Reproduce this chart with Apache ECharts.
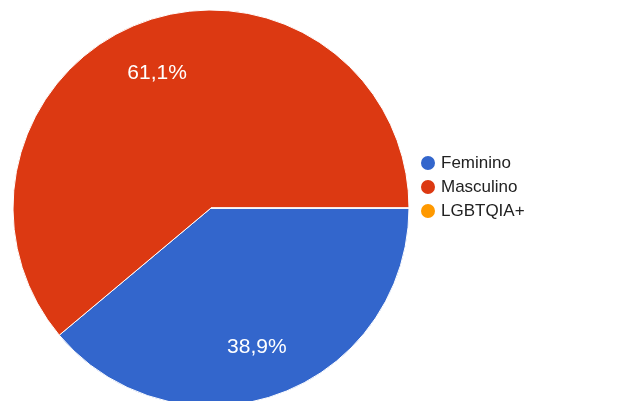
<!DOCTYPE html>
<html>
<head>
<meta charset="utf-8">
<script src="https://cdn.jsdelivr.net/npm/echarts@6/dist/echarts.min.js"></script>
<style>
  html, body { margin: 0; padding: 0; background: #ffffff; }
  #chart { width: 619px; height: 401px; }
</style>
</head>
<body>
<div id="chart"></div>
<script>
// Respostas por gênero (percentual)
const categories = ['Feminino', 'Masculino', 'LGBTQIA+'];
const values = [38.9, 61.1, 0];
const colors = ['#3366cc', '#dc3912', '#ff9900'];

const pieData = categories.map((name, i) => ({
  name: name,
  value: values[i],
  itemStyle: { color: colors[i] }
}));

function pctLabel(p) {
  if (!p.value) return '';
  return p.value.toFixed(1).replace('.', ',') + '%';
}

const center = [211, 208];
const outer = 198;
const font = 'Liberation Sans, Arial, sans-serif';

const chart = echarts.init(document.getElementById('chart'), null, { renderer: 'canvas' });
chart.setOption({
  animation: false,
  legend: {
    orient: 'vertical',
    left: 414,
    top: 149,
    icon: 'circle',
    itemWidth: 16,
    itemHeight: 16,
    itemGap: 6,
    data: categories,
    textStyle: { fontFamily: font, fontSize: 17, lineHeight: 17, color: '#222222' }
  },
  series: [
    {
      // slices
      type: 'pie',
      center: center,
      radius: [0, outer],
      startAngle: 0,
      clockwise: true,
      silent: true,
      label: { show: false },
      labelLine: { show: false },
      itemStyle: { borderColor: '#ffffff', borderWidth: 1 },
      data: pieData
    },
    {
      // percentage labels, placed further out along each slice
      type: 'pie',
      center: center,
      radius: [88, outer],
      startAngle: 0,
      clockwise: true,
      silent: true,
      itemStyle: { color: 'rgba(0,0,0,0)' },
      label: {
        show: true,
        position: 'inside',
        formatter: pctLabel,
        color: '#ffffff',
        fontFamily: font,
        fontSize: 21,
        offset: [-4, 2]
      },
      labelLine: { show: false },
      data: categories.map((name, i) => ({ name: name, value: values[i] }))
    }
  ]
});
</script>
</body>
</html>
